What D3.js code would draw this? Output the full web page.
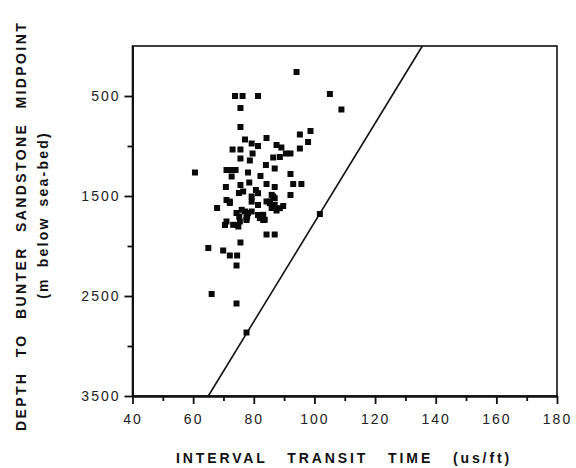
<!DOCTYPE html>
<html>
<head>
<meta charset="utf-8">
<script src="https://cdn.jsdelivr.net/npm/d3@7.9.0/dist/d3.min.js"></script>
<style>
  body { margin: 0; background: #fff; }
  svg { display: block; font-family: "Liberation Sans", Arial, sans-serif; }
</style>
</head>
<body>
<svg width="576" height="468"></svg>
<script>
// interval transit time (us/ft) and depth (m below sea-bed) of each well
const transitTime = [
  94.1, 73.8, 76.3, 81.4, 105.1, 108.9, 75.6, 75.6, 77.1, 84.2,
  73.0, 75.6, 79.3, 81.4, 79.6, 75.6, 78.7, 87.5, 89.1, 90.6,
  92.1, 86.4, 88.6, 95.2, 98.7, 95.2, 97.9, 84.0, 86.9, 60.6,
  71.0, 72.5, 74.0, 78.1, 72.7, 82.2, 92.1, 70.8, 75.6, 78.5,
  84.2, 86.9, 93.0, 95.7, 76.5, 79.3, 71.0, 72.1, 86.4, 85.3,
  92.1, 67.9, 74.3, 77.1, 77.8, 81.4, 81.4, 84.2, 85.9, 87.5,
  89.7, 71.0, 70.5, 74.5, 77.6, 83.1, 84.2, 86.9, 75.6, 65.0,
  69.9, 72.1, 74.5, 74.3, 66.1, 74.3, 77.6, 101.8, 75.1, 76.0,
  78.1, 75.2, 77.6, 75.4, 73.2, 74.9, 72.1, 81.4, 85.9, 86.9,
  85.3, 86.9, 88.6, 83.1, 82.0, 83.6, 79.3, 79.3, 80.7
];
const depth = [
  260, 500, 500, 500, 480, 635, 620, 810, 935, 920,
  1035, 1035, 975, 1000, 1075, 1125, 1145, 990, 1015, 1075,
  1075, 1115, 1110, 885, 850, 1025, 960, 1190, 1225, 1265,
  1240, 1240, 1240, 1265, 1305, 1300, 1280, 1410, 1390, 1365,
  1380, 1410, 1380, 1380, 1455, 1505, 1540, 1570, 1505, 1555,
  1490, 1620, 1670, 1655, 1705, 1590, 1690, 1555, 1620, 1645,
  1600, 1755, 1790, 1790, 1740, 1740, 1885, 1885, 1965, 2020,
  2045, 2095, 2095, 2195, 2480, 2575, 2865, 1680, 1470, 1638,
  1671, 1705, 1721, 1755, 1788, 1805, 1556, 1472, 1489, 1522,
  1572, 1589, 1622, 1688, 1721, 1738, 1556, 1655, 1440
];

// straight trend line
const lineTime = [65, 135.6];
const lineDepth = [3500, 0];

const xMajor = [40, 60, 80, 100, 120, 140, 160, 180];
const xMinor = [50, 70, 90, 110, 130, 150, 170];
const yMajor = [500, 1500, 2500, 3500];
const yMinor = [1000, 2000, 3000];

const svg = d3.select('svg');
const x = d3.scaleLinear().domain([40, 180]).range([132.5, 557]);
const y = d3.scaleLinear().domain([0, 3500]).range([46, 396]);

// frame
svg.append('rect')
  .attr('x', x(40)).attr('y', y(0))
  .attr('width', x(180) - x(40)).attr('height', y(3500) - y(0))
  .attr('fill', 'none').attr('stroke', '#111').attr('stroke-width', 1.6);

// bottom axis
svg.append('g').attr('transform', `translate(0,${y(3500)})`)
  .call(d3.axisBottom(x).tickValues(xMajor).tickSize(8).tickSizeOuter(0).tickPadding(10).tickFormat(d3.format('d')));
svg.append('g').attr('transform', `translate(0,${y(3500)})`)
  .call(d3.axisBottom(x).tickValues(xMinor).tickSize(5).tickSizeOuter(0).tickFormat(''));

// left axis
const yAxis = svg.append('g').attr('transform', `translate(${x(40)},0)`)
  .call(d3.axisLeft(y).tickValues(yMajor).tickSize(8).tickSizeOuter(0).tickPadding(6).tickFormat(d3.format('d')));
svg.append('g').attr('transform', `translate(${x(40)},0)`)
  .call(d3.axisLeft(y).tickValues(yMinor).tickSize(5).tickSizeOuter(0).tickFormat(''));

svg.selectAll('.domain').attr('stroke', '#111').attr('stroke-width', 2);
svg.selectAll('.tick line').attr('stroke', '#111').attr('stroke-width', 1.8);
svg.selectAll('.tick text')
  .attr('fill', '#222')
  .style('font-size', '14px')
  .style('letter-spacing', '2px');
yAxis.selectAll('.tick text').attr('dx', '2');

// trend line
svg.append('line')
  .attr('x1', x(lineTime[0])).attr('y1', y(lineDepth[0]))
  .attr('x2', x(lineTime[1])).attr('y2', y(lineDepth[1]))
  .attr('stroke', '#111').attr('stroke-width', 1.6);

// points
const s = 6;
svg.append('g').selectAll('rect')
  .data(d3.range(transitTime.length))
  .join('rect')
  .attr('x', i => x(transitTime[i]) - s / 2)
  .attr('y', i => y(depth[i]) - s / 2)
  .attr('width', s).attr('height', s)
  .attr('fill', '#0a0a0a');

// axis titles
svg.append('text')
  .attr('x', 344).attr('y', 463)
  .attr('text-anchor', 'middle')
  .attr('font-weight', 'bold').attr('font-size', 14)
  .style('letter-spacing', '2.9px').style('word-spacing', '13px')
  .attr('fill', '#111')
  .text('INTERVAL TRANSIT TIME (us/ft)');

svg.append('text')
  .attr('transform', 'translate(26,226) rotate(-90)')
  .attr('text-anchor', 'middle')
  .attr('font-weight', 'bold').attr('font-size', 14)
  .style('letter-spacing', '2.4px').style('word-spacing', '8px')
  .attr('fill', '#111')
  .text('DEPTH TO BUNTER SANDSTONE MIDPOINT');

svg.append('text')
  .attr('transform', 'translate(48,215) rotate(-90)')
  .attr('text-anchor', 'middle')
  .attr('font-weight', 'bold').attr('font-size', 14)
  .style('letter-spacing', '2.2px').style('word-spacing', '4px')
  .attr('fill', '#111')
  .text('(m below sea-bed)');
</script>
</body>
</html>
